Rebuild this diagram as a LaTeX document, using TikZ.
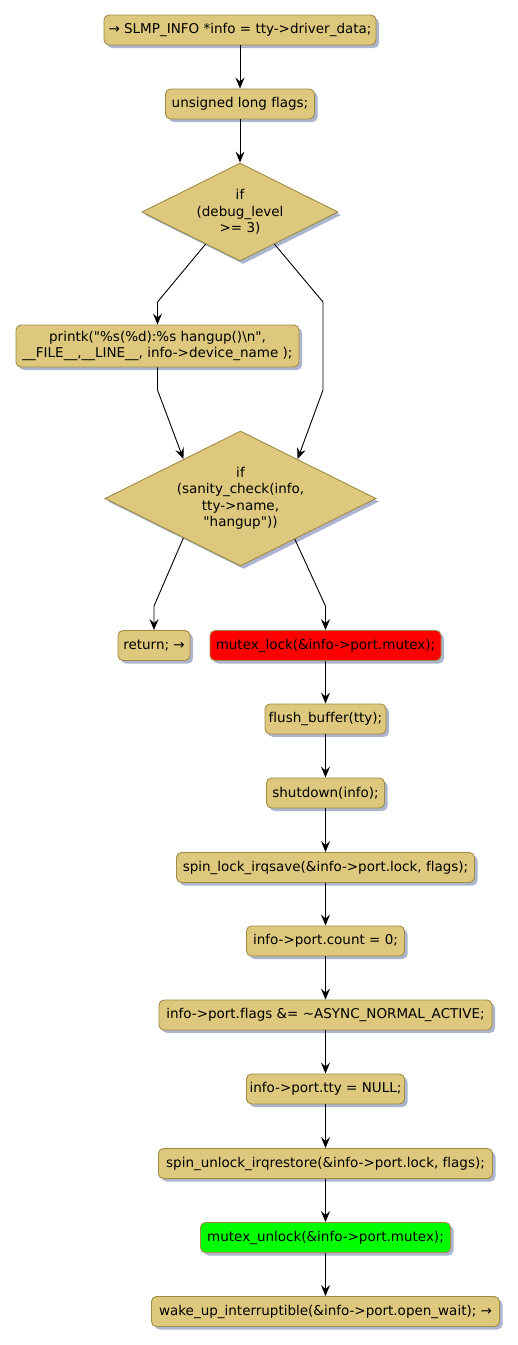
\documentclass[tikz,border=0pt]{standalone}
\usepackage{fontspec}
\setmainfont{DejaVu Sans}[Ligatures={TeX,NoCommon}]
\usetikzlibrary{shapes.geometric,shadows,calc,arrows.meta}
\definecolor{actfill}{HTML}{DDC87D}
\definecolor{actline}{HTML}{A08B47}
\definecolor{shadowc}{HTML}{ABB6CE}
\definecolor{lockred}{HTML}{FF0000}
\definecolor{unlockgreen}{HTML}{00FF00}
\begin{document}
\begin{tikzpicture}[x=1pt,y=-1pt,
  font=\fontsize{13.5}{16.5}\selectfont,
  shad/.style={drop shadow={shadow xshift=3pt,shadow yshift=-3pt,fill=shadowc,opacity=1}},
  box/.style={draw=actline, fill=actfill, line width=0.9pt, rounded corners=5pt,
    minimum height=30pt, inner sep=0pt, align=center, shad},
  dia/.style={diamond, draw=actline, fill=actfill, line width=0.9pt, inner sep=0pt,
    shape aspect=2, align=center, shad},
  arr/.style={-{Stealth[length=11pt,width=9pt,inset=4pt]}, line width=0.9pt}]
\useasboundingbox (0,0) rectangle (518,1345);

\node[box, minimum width=272pt] (n1) at (240,30) {→ SLMP\_INFO *info = tty->driver\_data;};
\node[box, minimum width=149pt] (n2) at (240,104) {unsigned long flags;};
\node[dia, minimum width=196pt, minimum height=98pt] (d1) at (240,212) {if\\(debug\_level\\>= 3)};
\node[box, minimum width=283pt, minimum height=42pt] (p) at (157.5,346)
  {printk(\textquotedbl\%s(\%d):\%s hangup()\textbackslash n\textquotedbl,\\\_\_FILE\_\_,\_\_LINE\_\_, info->device\_name );};
\node[dia, minimum width=271pt, minimum height=135pt] (d2) at (240.5,498.5)
  {if\\(sanity\_check(info,\\tty->name,\\\textquotedbl hangup\textquotedbl))};
\node[box, minimum width=72pt] (ret) at (154,645.5) {return; →};
\node[box, minimum width=231pt, fill=lockred] (ml) at (325.5,645.5) {mutex\_lock(\&info->port.mutex);};
\node[box, minimum width=121pt] (fb) at (325.5,719) {flush\_buffer(tty);};
\node[box, minimum width=118pt] (sd) at (325.5,793) {shutdown(info);};
\node[box, minimum width=298pt] (sl) at (325.5,867.5) {spin\_lock\_irqsave(\&info->port.lock, flags);};
\node[box, minimum width=158pt] (pc) at (325.5,941) {info->port.count = 0;};
\node[box, minimum width=333pt] (pf) at (325.5,1015) {info->port.flags \&= \textasciitilde ASYNC\_NORMAL\_ACTIVE;};
\node[box, minimum width=158pt] (pt) at (325.5,1089) {info->port.tty = NULL;};
\node[box, minimum width=334pt] (su) at (325.5,1163.5) {spin\_unlock\_irqrestore(\&info->port.lock, flags);};
\node[box, minimum width=250pt, fill=unlockgreen] (mu) at (325.5,1237.5) {mutex\_unlock(\&info->port.mutex);};
\node[box, minimum width=348pt] (wu) at (325.5,1311.5) {wake\_up\_interruptible(\&info->port.open\_wait); →};

\coordinate (r1) at (323,302);
\coordinate (r2) at (323,390);

\draw[arr] (n1) -- (n2);
\draw[arr] (n2) -- (d1);
\draw[arr] ($(d1.west)!0.65!(d1.south)$) -- (p.north |- r1) -- (p.north);
\draw[arr] ($(d1.east)!0.65!(d1.south)$) -- (r1) -- (r2) -- ($(d2.north)!0.42!(d2.east)$);
\draw[arr] (p.south) -- (p.south |- r2) -- ($(d2.north)!0.42!(d2.west)$);
\draw[arr] ($(d2.west)!0.58!(d2.south)$) -- ($(ret.north)+(0,-24)$) -- (ret.north);
\draw[arr] ($(d2.east)!0.6!(d2.south)$) -- ($(ml.north)+(0,-24)$) -- (ml.north);
\draw[arr] (ml) -- (fb);
\draw[arr] (fb) -- (sd);
\draw[arr] (sd) -- (sl);
\draw[arr] (sl) -- (pc);
\draw[arr] (pc) -- (pf);
\draw[arr] (pf) -- (pt);
\draw[arr] (pt) -- (su);
\draw[arr] (su) -- (mu);
\draw[arr] (mu) -- (wu);
\end{tikzpicture}
\end{document}
